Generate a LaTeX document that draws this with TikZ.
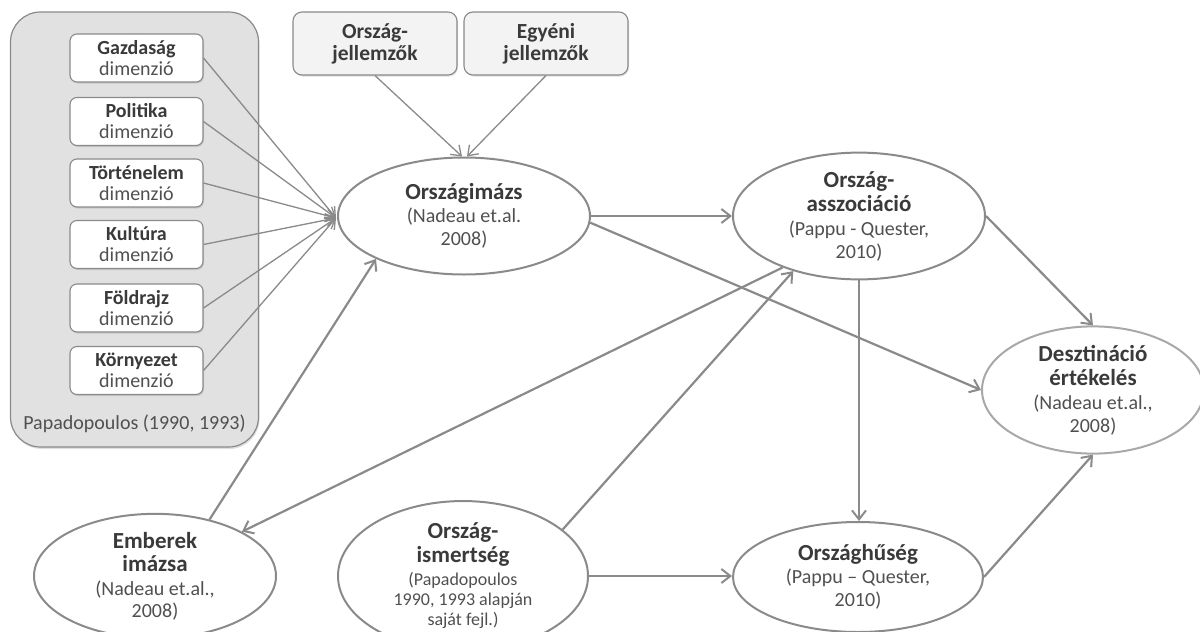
\documentclass[tikz,border=0pt]{standalone}
\usepackage{fontspec}
\setmainfont{Carlito}
\usetikzlibrary{shapes.geometric,arrows.meta,shadows}
\definecolor{linegray}{HTML}{8A8A8A}
\definecolor{boxgray}{HTML}{E1E1E1}
\definecolor{topgray}{HTML}{F3F3F3}
\definecolor{txtdark}{HTML}{3A3A3A}
\definecolor{txtreg}{HTML}{505050}
\definecolor{desztgray}{HTML}{A8A8A8}
\newcommand{\btit}[1]{{\fontsize{23}{23}\selectfont\bfseries\color{txtdark}#1}}
\newcommand{\rtxt}[1]{{\fontsize{20}{23}\selectfont\color{txtreg}#1}}
\newcommand{\rsmall}[1]{{\fontsize{18}{20}\selectfont\color{txtreg}#1}}
\newcommand{\bsm}[1]{{\bfseries\color{txtdark}#1}}
\newcommand{\rsm}[1]{{\color{txtreg}#1}}
\tikzset{
  bigbox/.style={draw=linegray, line width=1.2pt, fill=boxgray, rounded corners=30pt,
     minimum width=248pt, minimum height=435pt, inner sep=0pt,
     drop shadow={shadow xshift=1pt, shadow yshift=-2pt, opacity=0.25}},
  dimbox/.style={draw=linegray, line width=1.1pt, fill=white, rounded corners=7pt,
     minimum width=133pt, minimum height=48pt, inner sep=0pt, align=center,
     font=\fontsize{20}{21}\selectfont,
     drop shadow={shadow xshift=1pt, shadow yshift=-1.5pt, opacity=0.25}},
  topbox/.style={draw=linegray, line width=1.1pt, fill=topgray, rounded corners=9pt,
     minimum width=164pt, minimum height=63pt, inner sep=0pt, align=center,
     font=\fontsize{21.5}{22}\selectfont,
     drop shadow={shadow xshift=1pt, shadow yshift=-1.5pt, opacity=0.25}},
  ell/.style={ellipse, draw=linegray, line width=2pt, fill=white, inner sep=0pt, align=center,
     font=\fontsize{20}{23}\selectfont},
  thin/.style={draw=linegray, line width=1.3pt, -{Straight Barb[length=9pt,width=13pt,line width=1.3pt]}},
  conn/.style={draw=linegray, line width=2.2pt, -{Straight Barb[length=9pt,width=14pt,line width=2pt]}},
}
\begin{document}
\begin{tikzpicture}[x=1pt,y=-1pt]
\useasboundingbox (0,0) rectangle (1200,632);
% left grouping box
\node[bigbox] (pap) at (134.5,229.5) {};
\node[inner sep=0pt, font=\fontsize{20}{21}\selectfont] (paplbl) at (134.5,424) {\rsm{Papadopoulos (1990, 1993)}};
\node[dimbox] (gaz) at (136.5,58) {\bsm{Gazdaság}\\\rsm{dimenzió}};
\node[dimbox] (pol) at (136.5,121.5) {\bsm{Politika}\\\rsm{dimenzió}};
\node[dimbox] (tor) at (136.5,183) {\bsm{Történelem}\\\rsm{dimenzió}};
\node[dimbox] (kul) at (136.5,244.5) {\bsm{Kultúra}\\\rsm{dimenzió}};
\node[dimbox] (fold) at (136.5,308) {\bsm{Földrajz}\\\rsm{dimenzió}};
\node[dimbox] (korny) at (136.5,370.5) {\bsm{Környezet}\\\rsm{dimenzió}};
% top boxes
\node[topbox] (ojell) at (375,43.5) {\bsm{Ország-}\\\bsm{jellemzők}};
\node[topbox] (egy) at (546,43.5) {\bsm{Egyéni}\\\bsm{jellemzők}};
% ellipses
\node[ell, minimum width=252pt, minimum height=117pt] (imazs) at (464,216)
  {\btit{Országimázs}\\\rtxt{(Nadeau et.al.}\\\rtxt{2008)}};
\node[ell, minimum width=252pt, minimum height=117pt] (assz) at (859,216)
  {\btit{Ország-}\\[1pt]\btit{asszociáció}\\[1pt]\rtxt{(Pappu - Quester,}\\\rtxt{2010)}};
\node[ell, draw=desztgray, minimum width=222pt, minimum height=116pt] (deszt) at (1093,390)
  {\btit{Desztináció}\\[1pt]\btit{értékelés}\\[1pt]\rtxt{(Nadeau et.al.,}\\\rtxt{2008)}};
\node[ell, minimum width=242pt, minimum height=114pt] (emb) at (155,576)
  {\btit{Emberek}\\\btit{imázsa}\\[1pt]\rtxt{(Nadeau et.al.,}\\[-1pt]\rtxt{2008)}};
\node[ell, minimum width=250pt, minimum height=117pt, font=\fontsize{18}{20}\selectfont] (ism) at (463,576)
  {\btit{Ország-}\\[3pt]\btit{ismertség}\\[3pt]\rsmall{(Papadopoulos}\\\rsmall{1990, 1993 alapján}\\\rsmall{saját fejl.)}};
\node[ell, minimum width=250pt, minimum height=110pt] (hus) at (858,577)
  {\btit{Országhűség}\\\rtxt{(Pappu – Quester,}\\\rtxt{2010)}};
% connectors from dimension boxes
\foreach \b in {gaz,pol,tor,kul,fold,korny}
  \draw[thin] (\b.east) -- ([xshift=-1pt,yshift=-2pt]imazs.west);
\draw[thin] (ojell.south) -- ([xshift=-2pt]imazs.north);
\draw[thin] (egy.south) -- ([xshift=3pt]imazs.north);
% main connectors
\draw[conn] (imazs.east) -- (assz.west);
\draw[conn] (imazs.-3) -- (deszt.west);
\draw[conn] (assz.east) -- (deszt.north);
\draw[conn] (assz.south) -- (assz.south |- hus.north);
\draw[conn] (assz.214) -- (emb.27);
\draw[conn] (emb.46) -- (imazs.206);
\draw[conn] (ism.25) -- (assz.220);
\draw[conn] (ism.east) -- (ism.east -| hus.west);
\draw[conn] (hus.east) -- (deszt.south);
\end{tikzpicture}
\end{document}
